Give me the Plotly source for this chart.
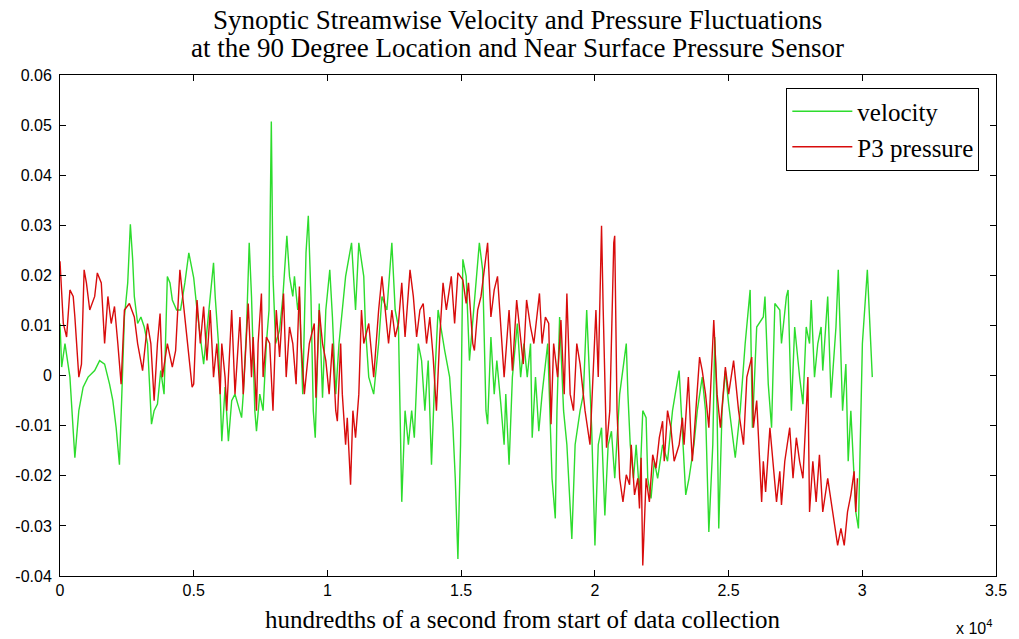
import plotly.graph_objects as go

# ---- data ----
vel_t = [0,62,186,371,556,704,865,1050,1297,1482,1668,1853,1976,2100,2223,2347,2409,2532,2631,2717,
         2779,2903,3026,3150,3273,3421,3520,3644,3767,3891,4014,4113,4200,4360,4508,4669,4817,
         5000,5124,5371,5556,5741,5803,5926,6050,6173,6297,6420,6544,6791,6853,6976,7075,7161,7285,7347,7470,
         7594,7717,7816,7902,7964,8063,8211,8335,8483,8582,8705,8767,8890,8952,9076,9199,9285,9384,9471,9545,
         9631,9693,9817,9940,10088,10187,10311,
         10433,10680,10902,11051,11174,11359,11421,11545,11730,11915,12039,12224,12409,12533,12656,12780,12903,
         13027,13150,13249,13397,13521,13644,13768,13891,14015,14138,14385,14570,14694,14780,14879,14978,15064,
         15188,15311,
         15557,15681,15804,15928,15990,16113,16237,16335,16484,16607,16669,16792,16916,17101,17225,17348,17472,
         17595,17657,17780,17904,18027,18237,18398,18521,18583,18682,18830,18954,19139,19262,19448,19571,19695,
         19880,20003,20127,20250,20374,20497,20621,20744,
         20928,21175,21236,21323,21446,21545,21669,21792,21916,21977,22101,22224,22348,22533,22718,22904,23151,
         23274,23398,23521,23706,23830,24015,24139,24262,24410,24484,24571,24633,24756,24880,25003,25250,25435,
         25621,25806,
         25891,26052,26299,26361,26484,26608,26731,26916,26978,27163,27225,27349,27472,27657,27781,27904,28028,
         28090,28213,28337,28460,28522,28645,28707,28831,29016,29102,29263,29386,29473,29572,29757,29856,29917,
         30004,30189,30288,30374]
vel = [0.0104,0.0017,0.0064,-0.0003,-0.0164,-0.0070,-0.0023,-0.0003,0.0010,0.0030,0.0023,-0.0017,-0.0050,-0.0104,-0.0178,-0.0003,0.0117,0.0185,0.0302,0.0232,
       0.0158,0.0104,0.0117,0.0097,0.0064,-0.0097,-0.0070,-0.0057,0.0010,-0.0037,0.0198,0.0185,0.0151,0.0131,0.0131,0.0185,0.0245,
       0.0195,0.0131,0.0023,0.0131,0.0225,0.0158,0.0064,-0.0131,-0.0023,-0.0131,-0.0050,-0.0037,-0.0084,-0.0037,0.0097,0.0265,0.0158,-0.0070,-0.0111,-0.0037,
       -0.0070,0.0064,0.0131,0.0507,0.0198,0.0064,0.0091,0.0158,0.0279,0.0198,0.0158,0.0198,0.0131,0.0158,-0.0037,0.0245,0.0319,0.0158,-0.0070,-0.0124,
       0.0064,0.0144,-0.0044,0.0131,0.0211,0.0117,-0.0037,
       0.0064,0.0198,0.0265,0.0131,0.0265,0.0198,0.0097,-0.0003,-0.0037,0.0064,0.0158,0.0131,0.0265,0.0131,0.0097,-0.0252,-0.0070,
       -0.0138,-0.0070,-0.0124,0.0064,0.0030,-0.0070,0.0030,-0.0178,-0.0003,0.0131,0.0050,-0.0003,-0.0104,-0.0205,-0.0366,-0.0138,0.0232,
       0.0198,0.0030,
       0.0198,0.0265,0.0211,-0.0070,-0.0097,0.0077,-0.0037,0.0030,-0.0057,-0.0138,-0.0037,-0.0178,-0.0003,0.0104,-0.0003,0.0064,-0.0003,
       0.0064,-0.0124,-0.0003,-0.0111,-0.0037,0.0064,-0.0205,-0.0285,-0.0070,0.0117,-0.0070,-0.0138,-0.0326,-0.0138,-0.0070,-0.0037,0.0131,
       -0.0104,-0.0339,-0.0138,-0.0104,-0.0279,-0.0138,-0.0111,-0.0205,
       -0.0037,0.0064,-0.0037,-0.0138,-0.0205,-0.0138,-0.0238,-0.0070,-0.0084,-0.0205,-0.0245,-0.0171,-0.0205,-0.0138,-0.0171,-0.0070,0.0010,
       -0.0104,-0.0238,-0.0205,-0.0138,-0.0070,-0.0003,-0.0070,-0.0312,-0.0138,0.0077,-0.0070,-0.0305,-0.0070,0.0010,-0.0057,-0.0164,-0.0070,
       0.0064,0.0171,
       -0.0104,0.0097,0.0117,0.0158,-0.0017,-0.0104,0.0144,0.0131,0.0064,0.0158,0.0171,-0.0070,0.0097,-0.0003,-0.0057,0.0097,0.0064,
       0.0151,-0.0003,0.0064,0.0097,0.0010,0.0104,0.0158,-0.0044,0.0097,0.0211,-0.0070,0.0023,-0.0171,-0.0070,-0.0272,-0.0305,-0.0138,
       0.0064,0.0211,0.0097,-0.0003]

pres_t = [0,62,124,247,371,494,556,704,803,902,988,1112,1297,1396,1544,1668,1791,1915,2038,2162,
          2285,2409,2594,2779,2903,3088,3273,3397,3520,3644,3742,3829,4014,4200,4323,4483,4632,4817,4940,
          5000,5124,5247,5371,5494,5618,5741,5865,5988,6050,6173,6235,6420,6544,6729,6853,7038,7161,7223,7347,
          7408,7532,7594,7717,7841,7964,8088,8211,8359,8458,8582,8705,8829,8952,9014,9137,9199,9323,9508,9570,
          9693,9817,9940,10064,10187,10311,
          10371,10495,10557,10680,10742,10865,10952,11051,11174,11273,11359,11545,11730,11915,12039,12162,12286,
          12409,12533,12656,12780,12903,13088,13212,13335,13459,13582,13706,13829,13953,14076,14200,14323,14447,
          14632,14756,14879,15064,15188,15274,15435,
          15496,15619,15743,15990,16113,16237,16360,16484,16607,16792,16916,17076,17225,17323,17447,17595,17719,
          17929,18027,18151,18274,18361,18459,18608,18731,18855,18954,19077,19201,19324,19448,19633,19818,19942,
          20040,20127,20250,20312,20435,20559,20707,
          20742,20804,20829,20928,21051,21175,21298,21360,21483,21607,21669,21730,21792,21916,22039,22163,22286,
          22410,22533,22595,22718,22842,22965,23151,23274,23336,23496,23583,23645,23793,23916,24015,24139,24262,
          24447,24571,24694,24880,25003,25188,25374,25559,25683,25867,
          25928,26052,26175,26237,26299,26385,26546,26669,26793,26916,26978,27102,27287,27410,27534,27657,27781,
          27966,28028,28151,28275,28398,28522,28707,28831,28954,29078,29201,29325,29448,29572,29695,29757,29819]
pres = [0.0228,0.0158,0.0104,0.0077,0.0171,0.0158,0.0117,-0.0003,0.0023,0.0211,0.0185,0.0131,0.0158,0.0205,0.0185,0.0064,0.0158,0.0104,0.0138,0.0064,
        -0.0017,0.0131,0.0144,0.0117,0.0064,0.0010,0.0104,0.0064,-0.0050,0.0064,0.0124,-0.0003,0.0064,0.0017,0.0050,0.0211,0.0131,0.0037,-0.0023,
        -0.0017,0.0151,0.0064,0.0138,0.0030,0.0131,-0.0003,0.0064,-0.0037,0.0064,-0.0003,-0.0070,0.0131,-0.0037,0.0117,-0.0037,0.0144,-0.0003,0.0077,-0.0070,
        0.0064,0.0164,-0.0003,0.0077,0.0064,-0.0070,0.0131,0.0037,0.0164,-0.0003,0.0097,0.0064,-0.0017,0.0178,0.0064,-0.0037,-0.0003,0.0064,0.0104,-0.0044,
        0.0131,0.0064,0.0030,-0.0037,0.0064,-0.0070,
        -0.0091,0.0064,-0.0037,-0.0138,-0.0084,-0.0218,-0.0070,-0.0124,-0.0037,0.0131,0.0064,0.0104,-0.0003,0.0131,0.0198,0.0131,0.0064,
        0.0131,0.0077,0.0104,0.0185,0.0077,0.0211,0.0158,0.0077,0.0131,0.0144,0.0064,0.0117,0.0037,-0.0070,0.0077,0.0185,0.0131,
        0.0198,0.0104,0.0205,0.0191,0.0144,0.0185,0.0064,
        0.0050,0.0131,0.0158,0.0265,0.0117,0.0171,0.0198,0.0097,-0.0003,0.0131,0.0010,0.0151,0.0064,0.0023,0.0151,0.0097,0.0064,
        0.0164,0.0064,0.0117,0.0104,-0.0097,0.0064,-0.0003,0.0111,-0.0037,0.0164,-0.0037,-0.0070,0.0064,0.0023,-0.0070,-0.0138,-0.0003,
        0.0131,-0.0003,0.0299,0.0131,-0.0144,-0.0070,0.0265,
        0.0279,0.0064,-0.0070,-0.0205,-0.0252,-0.0198,-0.0218,-0.0138,-0.0238,-0.0205,-0.0265,-0.0164,-0.0379,-0.0205,-0.0252,-0.0158,-0.0185,
        -0.0124,-0.0091,-0.0171,-0.0070,-0.0104,-0.0171,-0.0138,-0.0084,-0.0138,-0.0003,-0.0111,-0.0171,-0.0057,0.0037,0.0010,-0.0037,-0.0104,
        0.0111,-0.0037,-0.0104,0.0017,-0.0037,0.0030,-0.0070,-0.0138,-0.0003,0.0037,
        -0.0104,-0.0050,-0.0205,-0.0252,-0.0171,-0.0232,-0.0104,-0.0171,-0.0252,-0.0191,-0.0258,-0.0171,-0.0104,-0.0205,-0.0124,-0.0171,-0.0205,
        -0.0003,-0.0272,-0.0171,-0.0252,-0.0158,-0.0272,-0.0205,-0.0252,-0.0292,-0.0339,-0.0305,-0.0339,-0.0272,-0.0238,-0.0191,-0.0272,-0.0205]

x_tick_vals = [0, 5000, 10000, 15000, 20000, 25000, 30000, 35000]
x_tick_text = ["0", "0.5", "1", "1.5", "2", "2.5", "3", "3.5"]
y_tick_vals = [-0.04, -0.03, -0.02, -0.01, 0, 0.01, 0.02, 0.03, 0.04, 0.05, 0.06]
y_tick_text = ["-0.04", "-0.03", "-0.02", "-0.01", "0", "0.01", "0.02", "0.03", "0.04", "0.05", "0.06"]

title_lines = ["Synoptic Streamwise Velocity and Pressure Fluctuations",
               "at the 90 Degree Location and Near Surface Pressure Sensor"]
x_label = "hundredths of a second from start of data collection"

assert len(vel_t) == len(vel) and len(pres_t) == len(pres)

SERIF = "Liberation Serif, Times New Roman, serif"
SANS = "Liberation Sans, Arial, sans-serif"

fig = go.Figure()
fig.add_trace(go.Scatter(x=vel_t, y=vel, mode="lines", name="velocity",
                         line=dict(color="#2ddc2d", width=1.4)))
fig.add_trace(go.Scatter(x=pres_t, y=pres, mode="lines", name="P3 pressure",
                         line=dict(color="#d80c0c", width=1.4)))

axis_common = dict(showline=True, linecolor="black", linewidth=1, mirror="ticks",
                   ticks="inside", ticklen=6, tickcolor="black", showgrid=False, zeroline=False,
                   tickfont=dict(family=SANS, size=16, color="black"))

fig.update_layout(
    width=1019, height=639,
    margin=dict(l=60, r=14, t=75, b=63),
    paper_bgcolor="white", plot_bgcolor="white",
    xaxis=dict(range=[0, 35000], tickvals=x_tick_vals, ticktext=x_tick_text, **axis_common),
    yaxis=dict(range=[-0.04, 0.06], tickvals=y_tick_vals, ticktext=y_tick_text,
               ticklabelstandoff=4, **axis_common),
    showlegend=True,
    legend=dict(x=0.776, y=0.975, xanchor="left", yanchor="top",
                bgcolor="white", bordercolor="black", borderwidth=1,
                font=dict(family=SERIF, size=25, color="black"),
                itemwidth=60, tracegroupgap=0),
    annotations=[
        dict(text=title_lines[0], x=0.489, y=1.1098, xref="paper", yref="paper",
             xanchor="center", yanchor="middle", showarrow=False,
             font=dict(family=SERIF, size=27, color="black")),
        dict(text=title_lines[1], x=0.489, y=1.0539, xref="paper", yref="paper",
             xanchor="center", yanchor="middle", showarrow=False,
             font=dict(family=SERIF, size=27, color="black")),
        dict(text=x_label, x=0.495, y=-0.0878, xref="paper", yref="paper",
             xanchor="center", yanchor="middle", showarrow=False,
             font=dict(family=SERIF, size=25, color="black")),
        dict(text="x 10<sup>4</sup>", x=0.976, y=-0.102, xref="paper", yref="paper",
             xanchor="center", yanchor="middle", showarrow=False,
             font=dict(family=SANS, size=16, color="black")),
    ],
)

fig.write_html("out.html")
